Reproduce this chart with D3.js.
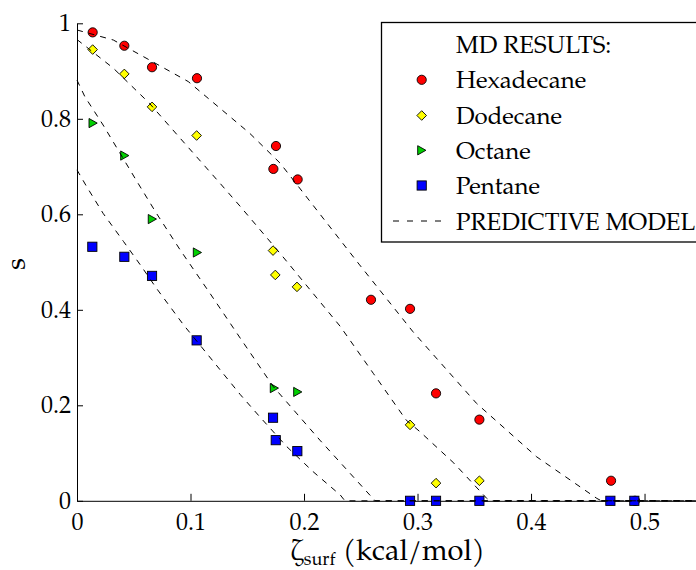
<!DOCTYPE html>
<html>
<head>
<meta charset="utf-8">
<script src="https://cdn.jsdelivr.net/npm/d3@7"></script>
<style>
  body { margin: 0; background: #fff; }
  svg { display: block; }
</style>
</head>
<body>
<svg id="chart" width="696" height="570"></svg>
<script>
// ---------- DATA ----------
const xTicks = [0, 0.1, 0.2, 0.3, 0.4, 0.5];
const xTickLabels = ["0", "0.1", "0.2", "0.3", "0.4", "0.5"];
const yTicks = [0, 0.2, 0.4, 0.6, 0.8, 1];
const yTickLabels = ["0", "0.2", "0.4", "0.6", "0.8", "1"];

const seriesNames = ["Hexadecane", "Dodecane", "Octane", "Pentane"];
const legendTitle = "MD RESULTS:";
const modelName = "PREDICTIVE MODEL";

// MD results
const hexX = [0.0138, 0.0417, 0.0661, 0.1057, 0.1753, 0.1730, 0.1944, 0.2590, 0.2934, 0.3163, 0.3545, 0.4705, 0.4916];
const hexY = [0.981, 0.953, 0.908, 0.885, 0.743, 0.695, 0.673, 0.421, 0.402, 0.225, 0.170, 0.042, 0.0];

const dodX = [0.0138, 0.0417, 0.0661, 0.1054, 0.1727, 0.1747, 0.1938, 0.2934, 0.3163, 0.3545];
const dodY = [0.945, 0.894, 0.825, 0.765, 0.524, 0.473, 0.448, 0.159, 0.037, 0.042];

const octX = [0.0141, 0.0420, 0.0663, 0.1060, 0.1738, 0.1944];
const octY = [0.791, 0.723, 0.590, 0.520, 0.236, 0.228];

const penX = [0.0135, 0.0417, 0.0661, 0.1054, 0.1727, 0.1751, 0.1941, 0.2934, 0.3163, 0.3545, 0.4699, 0.4910];
const penY = [0.532, 0.511, 0.471, 0.336, 0.174, 0.127, 0.104, 0, 0, 0, 0, 0];

// Predictive model curves
const hexModelX = [0, 0.032, 0.064, 0.098, 0.152, 0.179, 0.249, 0.296, 0.352, 0.405, 0.458, 0.462, 0.55];
const hexModelY = [0.986, 0.965, 0.923, 0.878, 0.770, 0.707, 0.494, 0.354, 0.204, 0.092, 0.005, 0, 0];

const dodModelX = [0, 0.032, 0.064, 0.091, 0.126, 0.144, 0.179, 0.232, 0.261, 0.290, 0.302, 0.332, 0.361, 0.364, 0.55];
const dodModelY = [0.966, 0.906, 0.832, 0.759, 0.665, 0.616, 0.518, 0.365, 0.267, 0.169, 0.145, 0.079, 0.005, 0, 0];

const octModelX = [0, 0.007, 0.023, 0.053, 0.070, 0.091, 0.117, 0.144, 0.173, 0.214, 0.258, 0.263, 0.55];
const octModelY = [0.881, 0.846, 0.787, 0.668, 0.602, 0.525, 0.435, 0.340, 0.239, 0.127, 0.012, 0, 0];

const penModelX = [0, 0.0085, 0.023, 0.041, 0.057, 0.070, 0.094, 0.144, 0.161, 0.185, 0.208, 0.232, 0.236, 0.55];
const penModelY = [0.693, 0.658, 0.602, 0.543, 0.490, 0.445, 0.368, 0.222, 0.176, 0.113, 0.061, 0.012, 0, 0];

// ---------- CHART ----------
const FONT = '"TeX Gyre Pagella", "Palatino", "URW Palladio L", "Liberation Serif", serif';
const svg = d3.select("#chart");
const x = d3.scaleLinear().domain([0, 0.55]).range([77, 701.3]);
const y = d3.scaleLinear().domain([0, 1]).range([500.8, 23.3]);

const zip = (xs, ys) => xs.map((v, i) => [v, ys[i]]);

const series = [
  { name: seriesNames[0], pts: zip(hexX, hexY), shape: "circle", fill: "#ff0000" },
  { name: seriesNames[1], pts: zip(dodX, dodY), shape: "diamond", fill: "#ffff00" },
  { name: seriesNames[2], pts: zip(octX, octY), shape: "triangle", fill: "#00d000" },
  { name: seriesNames[3], pts: zip(penX, penY), shape: "square", fill: "#0000ff" }
];
const models = [zip(hexModelX, hexModelY), zip(dodModelX, dodModelY), zip(octModelX, octModelY), zip(penModelX, penModelY)];

function marker(sel, shape, fill) {
  if (shape === "circle") {
    sel.append("circle").attr("r", 4.6);
  } else if (shape === "diamond") {
    sel.append("path").attr("d", "M0,-4.8L4.8,0L0,4.8L-4.8,0Z");
  } else if (shape === "triangle") {
    sel.append("path").attr("d", "M-4,-4.6L4.2,0L-4,4.6Z");
  } else {
    sel.append("rect").attr("x", -4.6).attr("y", -4.6).attr("width", 9.2).attr("height", 9.2);
  }
  sel.selectAll("circle,path,rect").attr("fill", fill).attr("stroke", "#000").attr("stroke-width", 0.9);
}

// Axes
const yAxis = d3.axisLeft(y).tickValues(yTicks).tickFormat((d, i) => yTickLabels[i])
  .tickSizeInner(-6).tickSizeOuter(0).tickPadding(6);
const xAxis = d3.axisBottom(x).tickValues(xTicks).tickFormat((d, i) => xTickLabels[i])
  .tickSizeInner(-7).tickSizeOuter(0).tickPadding(12);

const gx = svg.append("g").attr("transform", `translate(0,${y(0)})`).call(xAxis);
const gy = svg.append("g").attr("transform", `translate(${x(0)},0)`).call(yAxis);
[gx, gy].forEach(g => {
  g.attr("font-family", null).attr("font-size", null);
  g.selectAll("text").style("font-size", "24px").attr("fill", "#000").style("font-family", FONT);
  g.selectAll("line").attr("stroke", "#000");
  g.select(".domain").attr("stroke", "#000");
});

// Markers
series.forEach(s => {
  const g = svg.append("g");
  s.pts.forEach(p => {
    const m = g.append("g").attr("transform", `translate(${x(p[0])},${y(p[1])})`);
    marker(m, s.shape, s.fill);
  });
});

// Model curves
const line = d3.line().x(d => x(d[0])).y(d => y(d[1]));
models.forEach(m => {
  svg.append("path").attr("d", line(m)).attr("fill", "none")
    .attr("stroke", "#000").attr("stroke-width", 1).attr("stroke-dasharray", "6,6");
});

// Axis labels
svg.append("text").attr("transform", "translate(25,264) rotate(-90)")
  .attr("text-anchor", "middle").style("font-family", FONT).style("font-size", "28px").text("s");

const xl = svg.append("text").attr("x", 290).attr("y", 560).style("font-family", FONT).style("font-size", "29px");
xl.append("tspan").text("ζ");
xl.append("tspan").attr("dy", 5).style("font-size", "18px").text("surf");
xl.append("tspan").attr("dy", -5).text(" (kcal/mol)");

// Legend
const lg = svg.append("g");
lg.append("rect").attr("x", 381.5).attr("y", 22.5).attr("width", 340).attr("height", 219.5)
  .attr("fill", "#fff").attr("stroke", "#000").attr("stroke-width", 1.3);
const rowBase = [52.7, 88.3, 124, 158.8, 194, 230];
const lgTextX = 456, lgMarkX = 421.7;
lg.append("text").attr("x", lgTextX).attr("y", rowBase[0]).style("font-family", FONT).style("font-size", "24px").text(legendTitle);
series.forEach((s, i) => {
  const m = lg.append("g").attr("transform", `translate(${lgMarkX},${rowBase[i + 1] - 8.5})`);
  marker(m, s.shape, s.fill);
  lg.append("text").attr("x", lgTextX).attr("y", rowBase[i + 1]).style("font-family", FONT).style("font-size", "24px").text(s.name);
});
lg.append("line").attr("x1", 393).attr("x2", 449).attr("y1", rowBase[5] - 9).attr("y2", rowBase[5] - 9)
  .attr("stroke", "#000").attr("stroke-width", 1).attr("stroke-dasharray", "6,8");
lg.append("text").attr("x", lgTextX).attr("y", rowBase[5]).style("font-family", FONT).style("font-size", "24px").text(modelName);
</script>
</body>
</html>
